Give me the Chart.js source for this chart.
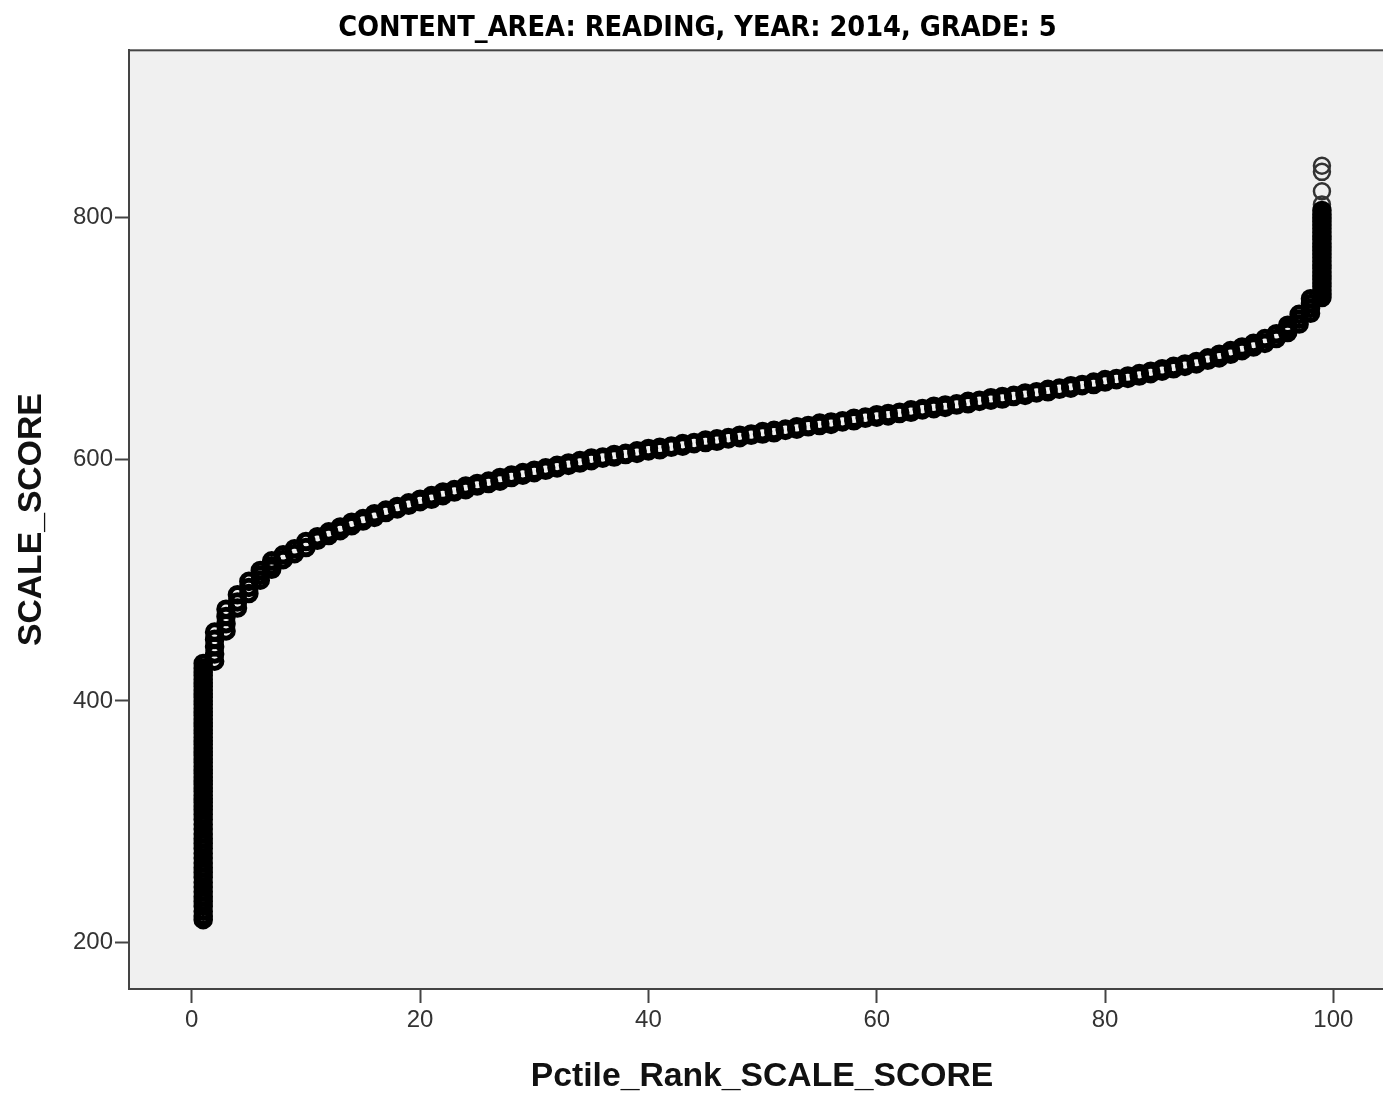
<!DOCTYPE html>
<html>
<head>
<meta charset="utf-8">
<script src="https://cdn.jsdelivr.net/npm/chart.js@4.4.1/dist/chart.umd.min.js"></script>
<style>
  html, body { margin: 0; padding: 0; background: #fff; overflow: hidden; }
  canvas { display: block; }
</style>
</head>
<body>
<canvas id="scatter" width="1396" height="1099"></canvas>
<script>
// percentile ranks 2..98 with the lowest / highest scale score seen at each rank
const ranks = [2, 3, 4, 5, 6, 7, 8, 9, 10, 11, 12, 13, 14, 15, 16, 17, 18, 19, 20,
  21, 22, 23, 24, 25, 26, 27, 28, 29, 30, 31, 32, 33, 34, 35, 36, 37, 38, 39, 40,
  41, 42, 43, 44, 45, 46, 47, 48, 49, 50, 51, 52, 53, 54, 55, 56, 57, 58, 59, 60,
  61, 62, 63, 64, 65, 66, 67, 68, 69, 70, 71, 72, 73, 74, 75, 76, 77, 78, 79, 80,
  81, 82, 83, 84, 85, 86, 87, 88, 89, 90, 91, 92, 93, 94, 95, 96, 97, 98];
const lowScores = [433, 458, 477, 489, 500, 509, 517, 522, 527, 533, 537, 541, 545, 549, 552, 556, 559, 562, 565,
  567, 570, 573, 575, 578, 580, 582, 585, 587, 589, 591, 593, 595, 597, 599, 601, 602, 604, 605, 607,
  608, 610, 611, 613, 614, 615, 617, 618, 620, 621, 622, 624, 625, 627, 628, 629, 631, 632, 634, 635,
  636, 638, 639, 641, 642, 643, 645, 646, 648, 649, 650, 652, 653, 655, 656, 658, 659, 661, 662, 664,
  666, 667, 669, 671, 673, 675, 677, 679, 682, 684, 687, 690, 693, 696, 700, 705, 712, 721];
const highScores = [457, 476, 488, 499, 508, 516, 521, 526, 532, 536, 540, 544, 548, 551, 555, 558, 561, 564, 567,
  570, 573, 575, 578, 580, 582, 585, 587, 589, 591, 593, 595, 597, 599, 601, 602, 604, 605, 607, 609,
  610, 611, 613, 614, 616, 617, 618, 620, 621, 623, 624, 625, 627, 628, 630, 631, 632, 634, 635, 637,
  638, 639, 641, 642, 644, 645, 646, 648, 649, 651, 652, 653, 655, 656, 658, 659, 661, 662, 664, 666,
  667, 669, 671, 673, 675, 677, 679, 681, 684, 687, 690, 693, 696, 700, 704, 711, 720, 733];

// in-between scores where a rank spans a wide range
const extraRanks = [2, 2, 2, 3, 3, 4, 5, 6, 7, 96, 97, 98, 98];
const extraScores = [439, 445, 451, 464, 470, 482, 494, 504, 512, 708, 716, 725, 729];

// the two tails
const rank1Scores = [219, 222, 226, 230, 234, 238, 242, 246, 250, 254, 258, 262, 266, 270, 274, 278,
  282, 286, 290, 294, 298, 302, 306, 310, 313, 316, 319, 322, 325, 328, 331, 334, 337, 340,
  343, 346, 349, 352, 355, 358, 361, 364, 367, 370, 373, 376, 379, 382, 385, 388, 391, 394,
  397, 400, 403, 406, 409, 412, 415, 418, 421, 424, 427, 431];
const rank99Scores = [734, 737, 740, 743, 746, 749, 752, 755, 758, 761, 764, 767, 770, 773, 776,
  779, 782, 785, 788, 791, 794, 797, 800, 803, 806];
const rank99Outliers = [811, 822, 838, 843];

const xTicks = [0, 20, 40, 60, 80, 100];
const yTicks = [200, 400, 600, 800];

const points = [];
rank1Scores.forEach(s => points.push({ x: 1, y: s }));
ranks.forEach((r, i) => {
    points.push({ x: r, y: lowScores[i] });
    points.push({ x: r, y: highScores[i] });
});
extraRanks.forEach((r, i) => points.push({ x: r, y: extraScores[i] }));
rank99Scores.forEach(s => points.push({ x: 99, y: s }));

const outlierPoints = rank99Outliers.map(s => ({ x: 99, y: s }));

// grey plot area with a frame, SPSS style
const plotFrame = {
    id: 'plotFrame',
    beforeDatasetsDraw(chart) {
        const { ctx, chartArea: a } = chart;
        ctx.save();
        ctx.fillStyle = '#f0f0f0';
        ctx.fillRect(a.left, a.top, a.right - a.left, a.bottom - a.top);
        ctx.strokeStyle = '#444';
        ctx.lineWidth = 2;
        ctx.strokeRect(a.left, a.top, a.right - a.left, a.bottom - a.top);
        ctx.restore();
    }
};

const noPad = s => { s.paddingLeft = 0; s.paddingRight = 0; s.paddingTop = 0; s.paddingBottom = 0; };

const tickFont = { family: "'Liberation Sans', Arial, sans-serif", size: 24 };
const titleFont = { family: "'Liberation Sans', Arial, sans-serif", size: 33.7, weight: 'bold' };

new Chart(document.getElementById('scatter'), {
    type: 'scatter',
    data: {
        datasets: [{
            label: 'SCALE_SCORE',
            data: points,
            pointStyle: 'circle',
            pointRadius: 7.3,
            pointBorderWidth: 5,
            pointBorderColor: '#000',
            pointBackgroundColor: 'rgba(0,0,0,0)',
            pointHoverRadius: 7.3
        }, {
            label: 'outliers',
            data: outlierPoints,
            pointStyle: 'circle',
            pointRadius: 8,
            pointBorderWidth: 2.5,
            pointBorderColor: '#333',
            pointBackgroundColor: 'rgba(0,0,0,0)',
            pointHoverRadius: 8
        }]
    },
    plugins: [plotFrame],
    options: {
        responsive: false,
        animation: false,
        events: [],
        layout: { autoPadding: false, padding: { top: 0, left: 0, right: 1, bottom: 0 } },
        plugins: {
            legend: { display: false },
            tooltip: { enabled: false },
            title: {
                display: true,
                text: 'CONTENT_AREA: READING, YEAR: 2014, GRADE: 5',
                color: '#000',
                font: { family: "'DejaVu Sans Condensed', 'DejaVu Sans', sans-serif", size: 28.6, weight: 'bold', lineHeight: 1.2 },
                padding: { top: 11, bottom: 5 }
            }
        },
        scales: {
            x: {
                type: 'linear',
                min: -5.5,
                max: 105.4,
                afterBuildTicks: s => { s.ticks = xTicks.map(v => ({ value: v })); },
                afterFit: s => { s.height = 110; noPad(s); },
                grid: { display: true, drawOnChartArea: false, drawTicks: true, tickLength: 14, tickWidth: 2, tickColor: '#444' },
                border: { display: true, color: '#444', width: 2 },
                ticks: { color: '#333', font: tickFont, padding: 3, maxRotation: 0 },
                title: { display: true, text: 'Pctile_Rank_SCALE_SCORE', color: '#111', font: titleFont, padding: { top: 0, bottom: 2 } }
            },
            y: {
                type: 'linear',
                min: 161.6,
                max: 938.6,
                afterBuildTicks: s => { s.ticks = yTicks.map(v => ({ value: v })); },
                afterFit: s => { s.width = 129; noPad(s); },
                grid: { display: true, drawOnChartArea: false, drawTicks: true, tickLength: 14, tickWidth: 2, tickColor: '#444' },
                border: { display: true, color: '#444', width: 2 },
                ticks: { color: '#333', font: tickFont, padding: 2 },
                title: { display: true, text: 'SCALE_SCORE', color: '#111', font: titleFont, padding: { top: 11, bottom: 0 } }
            }
        }
    }
});
</script>
</body>
</html>
